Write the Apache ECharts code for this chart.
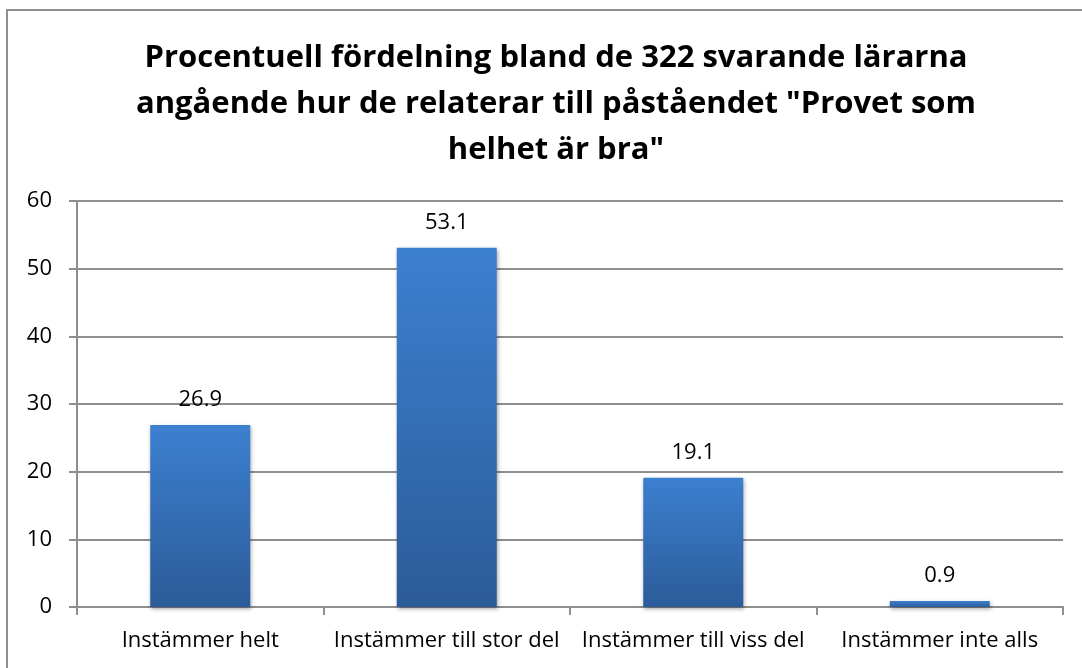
<!DOCTYPE html>
<html>
<head>
<meta charset="utf-8">
<script src="https://cdn.jsdelivr.net/npm/echarts@6/dist/echarts.min.js"></script>
<style>
  html, body { margin: 0; padding: 0; background: #fff; }
  .wrap { position: relative; width: 1082px; height: 668px; overflow: hidden; }
  .frame { position: absolute; left: 6px; top: 9px; width: 1100px; height: 700px; border: 2px solid #8e8e8e; }
  #mychart { position: absolute; left: 0; top: 0; width: 1082px; height: 668px; }
</style>
</head>
<body>
<div class="wrap">
  <div class="frame"></div>
  <div id="mychart"></div>
</div>
<script>
// data
const categories = ['Instämmer helt', 'Instämmer till stor del', 'Instämmer till viss del', 'Instämmer inte alls']
const values = [26.9, 53.1, 19.1, 0.9]
const titleText = 'Procentuell fördelning bland de 322 svarande lärarna\nangående hur de relaterar till påståendet "Provet som\nhelhet är bra"'

const font = '"Open Sans", "Noto Sans", sans-serif'
const gray = '#8e8e8e'

let mychart = echarts.init(document.getElementById('mychart'))
mychart.setOption({
  animation: false,
  title: {
    text: titleText,
    left: 551,
    textAlign: 'center',
    top: 30,
    textStyle: {
      fontFamily: font,
      fontWeight: 'bold',
      fontSize: 31,
      lineHeight: 46,
      color: '#000'
    }
  },
  grid: {
    left: 77,
    right: 19,
    top: 201,
    bottom: 61
  },
  xAxis: {
    type: 'category',
    data: categories,
    axisLine: { lineStyle: { color: gray, width: 2 } },
    axisTick: { show: true, length: 8, lineStyle: { color: gray, width: 2 } },
    axisLabel: {
      color: '#000',
      fontFamily: font,
      fontSize: 22,
      margin: 23,
      interval: 0
    },
    splitLine: { show: false }
  },
  yAxis: {
    type: 'value',
    min: 0,
    max: 60,
    interval: 10,
    axisLine: { show: true, lineStyle: { color: gray, width: 2 } },
    axisTick: { show: true, length: 8, lineStyle: { color: gray, width: 2 } },
    axisLabel: {
      color: '#000',
      fontFamily: font,
      fontSize: 22,
      margin: 25
    },
    splitLine: { lineStyle: { color: gray, width: 2 } }
  },
  series: [
    {
      type: 'bar',
      data: values,
      barWidth: 100,
      itemStyle: {
        color: new echarts.graphic.LinearGradient(0, 0, 0, 1, [
          { offset: 0, color: '#3c80d0' },
          { offset: 1, color: '#2c5b99' }
        ]),
        shadowBlur: 4,
        shadowColor: 'rgba(0,0,0,0.35)',
        shadowOffsetX: 1,
        shadowOffsetY: 2
      },
      label: {
        show: true,
        position: 'top',
        distance: 14,
        color: '#000',
        fontFamily: font,
        fontSize: 22,
        formatter: p => p.value.toFixed(1)
      }
    }
  ]
})
</script>
</body>
</html>
